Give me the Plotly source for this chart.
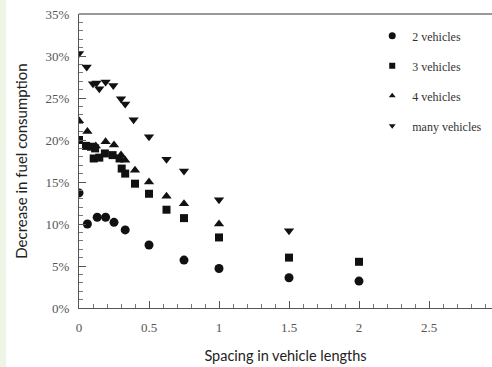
import plotly.graph_objects as go

# Data (spacing in vehicle lengths, decrease in fuel consumption in %)
x_2 = [0, 0.06, 0.13, 0.19, 0.25, 0.33, 0.5, 0.75, 1.0, 1.5, 2.0]
y_2 = [13.7, 10.0, 10.8, 10.8, 10.2, 9.3, 7.5, 5.7, 4.7, 3.6, 3.2]

x_3 = [0, 0.05, 0.085, 0.115, 0.105, 0.145, 0.185, 0.24, 0.29, 0.305, 0.33, 0.4, 0.5, 0.625, 0.75, 1.0, 1.5, 2.0]
y_3 = [20.0, 19.3, 19.2, 19.0, 17.8, 17.9, 18.4, 18.2, 17.8, 16.6, 16.0, 14.8, 13.6, 11.7, 10.7, 8.4, 6.0, 5.5]

x_4 = [0, 0.06, 0.12, 0.19, 0.25, 0.3, 0.33, 0.4, 0.5, 0.625, 0.75, 1.0]
y_4 = [22.3, 21.0, 19.3, 19.8, 19.4, 18.2, 17.6, 16.4, 15.0, 13.3, 12.4, 10.0]

x_many = [0, 0.055, 0.1, 0.125, 0.145, 0.19, 0.245, 0.3, 0.33, 0.39, 0.5, 0.625, 0.75, 1.0, 1.5]
y_many = [30.3, 28.7, 26.7, 26.8, 26.1, 26.9, 26.5, 24.9, 24.3, 22.4, 20.4, 17.7, 16.3, 12.9, 9.2]

series_names = ["2 vehicles", "3 vehicles", "4 vehicles", "many vehicles"]
x_ticks = [0, 0.5, 1, 1.5, 2, 2.5, 3]
x_tick_labels = ["0", "0.5", "1", "1.5", "2", "2.5", "3"]
y_ticks = [0, 5, 10, 15, 20, 25, 30, 35]
y_tick_labels = ["0%", "5%", "10%", "15%", "20%", "25%", "30%", "35%"]

symbols = ["circle", "square", "triangle-up", "triangle-down"]
sizes = [9, 8, 9, 9]
legend_sizes = [7, 6, 6, 6]
ink = "#111111"

fig = go.Figure()
for (xs, ys), name, sym, sz, lsz in zip([(x_2, y_2), (x_3, y_3), (x_4, y_4), (x_many, y_many)],
                                        series_names, symbols, sizes, legend_sizes):
    fig.add_trace(go.Scatter(x=xs, y=ys, mode="markers", name=name, showlegend=False,
                             legendgroup=name,
                             marker=dict(symbol=sym, size=sz, color=ink, line=dict(width=0))))
    # legend entry with smaller marker
    fig.add_trace(go.Scatter(x=[None], y=[None], mode="markers", name=name, legendgroup=name,
                             marker=dict(symbol=sym, size=lsz, color=ink, line=dict(width=0))))

serif = "Liberation Serif"
sans = "Lato"

fig.update_layout(
    width=492, height=367,
    margin=dict(l=79, r=0, t=14, b=59),
    paper_bgcolor="white", plot_bgcolor="white",
    showlegend=True,
    legend=dict(x=0.71, y=0.975, xanchor="left", yanchor="top",
                font=dict(family=serif, size=12, color="#333"),
                bgcolor="rgba(0,0,0,0)", itemsizing="trace",
                tracegroupgap=11, itemwidth=30),
    xaxis=dict(range=[0, 2.95], tickvals=x_ticks, ticktext=x_tick_labels, automargin=False,
               showgrid=False, zeroline=False, showline=True, linecolor="#555", linewidth=1,
               ticks="inside", ticklen=7, tickcolor="#555",
               minor=dict(dtick=0.1, ticks="inside", ticklen=4, tickcolor="#777"),
               tickfont=dict(family=serif, size=13, color="#555"),
               ticklabelstandoff=7,
               title=dict(text="Spacing in vehicle lengths", font=dict(family=sans, size=14.5, color="#222"),
                          standoff=17)),
    yaxis=dict(range=[0, 35], tickvals=y_ticks, ticktext=y_tick_labels, automargin=False,
               showgrid=False, zeroline=False, showline=True, linecolor="#555", linewidth=1,
               ticks="inside", ticklen=7, tickcolor="#555",
               minor=dict(dtick=1, ticks="inside", ticklen=4, tickcolor="#777"),
               tickfont=dict(family=serif, size=13, color="#555"),
               ticklabelstandoff=6,
               title=dict(text="Decrease in fuel consumption", font=dict(family=sans, size=15, color="#222"),
                          standoff=14)),
    shapes=[
        dict(type="line", xref="paper", yref="paper", x0=0, x1=1, y0=1, y1=1,
             line=dict(color="#999", width=2)),
        dict(type="rect", xref="paper", yref="paper", x0=-79/413, x1=-73/413, y0=-59/294, y1=1+14/294,
             fillcolor="#eef4e6", line=dict(width=0), layer="below"),
    ],
)

fig.write_html("out.html", config={"displayModeBar": False},
               post_script="document.body.style.margin='0';document.body.style.overflow='hidden';")
